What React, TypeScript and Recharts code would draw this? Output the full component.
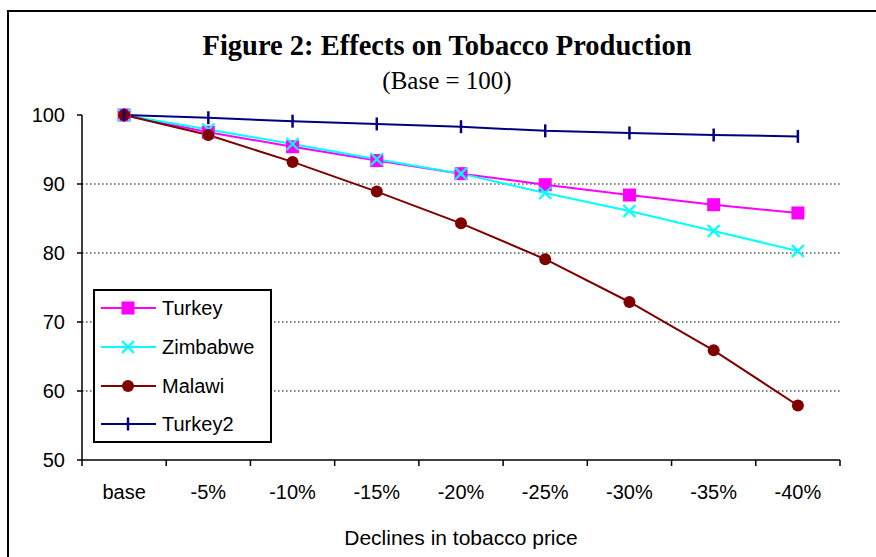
import React from 'react';
import { LineChart, Line, XAxis, YAxis, ReferenceLine, Legend } from 'recharts';

// ---- data ----
const categories = ['base', '-5%', '-10%', '-15%', '-20%', '-25%', '-30%', '-35%', '-40%'];
const turkey = [100, 97.5, 95.4, 93.4, 91.5, 89.9, 88.4, 87.0, 85.8];
const zimbabwe = [100, 97.9, 95.8, 93.6, 91.5, 88.7, 86.1, 83.2, 80.3];
const malawi = [100, 97.1, 93.2, 88.9, 84.3, 79.1, 72.9, 65.9, 57.9];
const turkey2 = [100, 99.6, 99.1, 98.7, 98.3, 97.7, 97.4, 97.1, 96.9];
const yTicks = [50, 60, 70, 80, 90, 100];
const gridValues = [60, 70, 80, 90];

const TITLE = 'Figure 2: Effects on Tobacco Production';
const SUBTITLE = '(Base = 100)';
const X_LABEL = 'Declines in tobacco price';

// ---- layout ----
const W = 876;
const H = 557;
const MARGIN = { top: 115, right: 36, bottom: 57, left: 22 };
const Y_AXIS_W = 60;
const X_AXIS_H = 40;
const TICK_GAP = 25;
const SANS = '"Liberation Sans", Arial, sans-serif';
const SERIF = '"Liberation Serif", "Times New Roman", serif';
const PLOT_W = W - MARGIN.left - MARGIN.right - Y_AXIS_W;

const rows = categories.map((c, i) => ({
  category: c,
  turkey: turkey[i],
  zimbabwe: zimbabwe[i],
  malawi: malawi[i],
  turkey2: turkey2[i],
}));

// ---- markers ----
type MarkerKind = 'square' | 'cross' | 'circle' | 'bar';

function Marker({ kind, cx, cy, color }: { kind: MarkerKind; cx: number; cy: number; color: string }) {
  if (kind === 'square') {
    return <rect x={cx - 6.5} y={cy - 6.5} width={13} height={13} fill={color} />;
  }
  if (kind === 'cross') {
    return (
      <path
        d={`M${cx - 6},${cy - 6}L${cx + 6},${cy + 6}M${cx - 6},${cy + 6}L${cx + 6},${cy - 6}`}
        stroke={color}
        strokeWidth={2.2}
        fill="none"
      />
    );
  }
  if (kind === 'circle') {
    return <circle cx={cx} cy={cy} r={6} fill={color} />;
  }
  return <line x1={cx} x2={cx} y1={cy - 6.5} y2={cy + 6.5} stroke={color} strokeWidth={2.5} />;
}

const series: { key: string; name: string; color: string; kind: MarkerKind }[] = [
  { key: 'turkey', name: 'Turkey', color: '#FF00FF', kind: 'square' },
  { key: 'zimbabwe', name: 'Zimbabwe', color: '#00FFFF', kind: 'cross' },
  { key: 'malawi', name: 'Malawi', color: '#800000', kind: 'circle' },
  { key: 'turkey2', name: 'Turkey2', color: '#000080', kind: 'bar' },
];

const makeDot = (kind: MarkerKind, color: string) => (props: any) => {
  const { cx, cy, index } = props;
  if (cx == null || cy == null) return <g key={`d-${index}`} />;
  return (
    <g key={`d-${kind}-${index}`}>
      <Marker kind={kind} cx={cx} cy={cy} color={color} />
    </g>
  );
};

// Category labels centred in each band; tick marks sit on the band boundaries.
function CategoryTick(props: any) {
  const { x, y, payload, index, visibleTicksCount, width } = props;
  const count = visibleTicksCount || categories.length;
  const band = (typeof width === 'number' && width > 0 ? width : PLOT_W) / count;
  const axisY = y - TICK_GAP;
  return (
    <g>
      <line x1={x - band / 2} x2={x - band / 2} y1={axisY} y2={axisY + 6} stroke="#000" strokeWidth={1.5} />
      {index === count - 1 && (
        <line x1={x + band / 2} x2={x + band / 2} y1={axisY} y2={axisY + 6} stroke="#000" strokeWidth={1.5} />
      )}
      <text x={x} y={y} dy="0.71em" textAnchor="middle" fontFamily={SANS} fontSize={20} fill="#000">
        {payload.value}
      </text>
    </g>
  );
}

function LegendBox() {
  return (
    <div
      style={{
        position: 'relative',
        width: 179,
        height: 154,
        boxSizing: 'border-box',
        border: '2px solid #000',
        background: '#fff',
      }}
    >
      {series.map((s, i) => (
        <div
          key={s.key}
          style={{
            position: 'absolute',
            left: 0,
            top: i * 38.7 - 2,
            height: 38.7,
            display: 'flex',
            alignItems: 'center',
          }}
        >
          <svg width={64} height={20} style={{ display: 'block' }}>
            <line x1={6} x2={61} y1={10} y2={10} stroke={s.color} strokeWidth={2} />
            <Marker kind={s.kind} cx={33} cy={10} color={s.color} />
          </svg>
          <span style={{ marginLeft: 3, fontFamily: SANS, fontSize: 20, color: '#000', lineHeight: '20px' }}>
            {s.name}
          </span>
        </div>
      ))}
    </div>
  );
}

export default function App() {
  return (
    <div style={{ position: 'absolute', left: 0, top: 0, width: W, height: H, background: '#fff' }}>
      <LineChart width={W} height={H} data={rows} margin={MARGIN}>
        <XAxis
          dataKey="category"
          scale="band"
          height={X_AXIS_H}
          axisLine={{ stroke: '#000', strokeWidth: 1.5 }}
          tickLine={false}
          tickSize={0}
          tickMargin={TICK_GAP}
          interval={0}
          tick={<CategoryTick />}
          label={{
            value: X_LABEL,
            position: 'bottom',
            offset: 30,
            style: { fontFamily: SANS, fontSize: 21, fill: '#000' },
          }}
        />
        <YAxis
          width={Y_AXIS_W}
          domain={[50, 100]}
          ticks={yTicks}
          interval={0}
          axisLine={{ stroke: '#000', strokeWidth: 1.5 }}
          tickLine={{ stroke: '#000', strokeWidth: 1.5 }}
          tickSize={5}
          tickMargin={12}
          tick={{ fontFamily: SANS, fontSize: 20, fill: '#000' }}
        />
        {gridValues.map((v) => (
          <ReferenceLine key={v} y={v} stroke="#000" strokeWidth={1} strokeDasharray="1.5 2.5" />
        ))}
        {series.map((s) => (
          <Line
            key={s.key}
            type="linear"
            dataKey={s.key}
            name={s.name}
            stroke={s.color}
            strokeWidth={2}
            dot={makeDot(s.kind, s.color)}
            activeDot={false}
            isAnimationActive={false}
          />
        ))}
        <Legend
          layout="horizontal"
          verticalAlign="middle"
          align="center"
          content={() => <LegendBox />}
          wrapperStyle={{ position: 'absolute', left: 93, top: 289, width: 179, height: 154 }}
        />
      </LineChart>
      <svg
        width={W}
        height={H}
        style={{ position: 'absolute', left: 0, top: 0, pointerEvents: 'none' }}
      >
        <path d={`M${W},11 H8 V${H}`} stroke="#000" strokeWidth={2} fill="none" />
        <text x={447} y={55} textAnchor="middle" fontFamily={SERIF} fontWeight="bold" fontSize={28.5} fill="#000">
          {TITLE}
        </text>
        <text x={447} y={89} textAnchor="middle" fontFamily={SERIF} fontSize={25} fill="#000">
          {SUBTITLE}
        </text>
      </svg>
    </div>
  );
}
